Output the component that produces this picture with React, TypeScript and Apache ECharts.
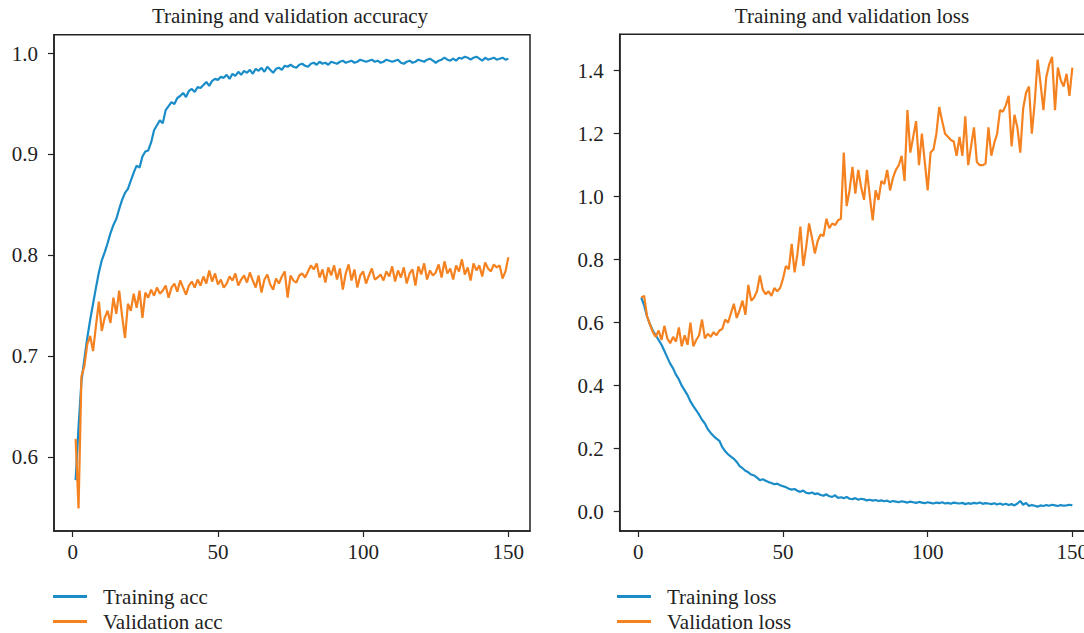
import React, { useEffect, useRef } from "react";
import * as echarts from "echarts";

const epochs: number[] = Array.from({ length: 150 }, (_, i) => i + 1);

const trainAcc: number[] = [
  0.577, 0.63, 0.675, 0.697, 0.718, 0.736, 0.752, 0.768, 0.783, 0.795,
  0.803, 0.812, 0.822, 0.83, 0.836, 0.846, 0.855, 0.862, 0.866, 0.874,
  0.882, 0.889, 0.887, 0.898, 0.903, 0.904, 0.912, 0.924, 0.929, 0.934,
  0.931, 0.944, 0.948, 0.952, 0.95, 0.956, 0.958, 0.961, 0.957, 0.963,
  0.965, 0.962, 0.967, 0.966, 0.969, 0.972, 0.968, 0.973, 0.975, 0.974,
  0.977, 0.976, 0.979, 0.975, 0.98, 0.978, 0.982, 0.979, 0.983, 0.981,
  0.984, 0.98, 0.985, 0.983, 0.986, 0.982, 0.987, 0.984, 0.981, 0.985,
  0.986, 0.984, 0.988, 0.987, 0.989, 0.987, 0.986, 0.989, 0.99, 0.988,
  0.987, 0.99, 0.991, 0.989, 0.992, 0.99, 0.991, 0.989, 0.992, 0.991,
  0.99, 0.992, 0.993, 0.991, 0.992, 0.993, 0.991, 0.992, 0.994, 0.993,
  0.992, 0.993, 0.994, 0.992, 0.993, 0.991, 0.992, 0.994, 0.993, 0.992,
  0.993, 0.994, 0.991, 0.99, 0.992, 0.993, 0.991, 0.992, 0.994, 0.993,
  0.992, 0.994, 0.995, 0.993, 0.991, 0.993, 0.994, 0.996, 0.994, 0.993,
  0.995, 0.993, 0.996, 0.995, 0.997, 0.996, 0.994, 0.996, 0.997, 0.995,
  0.993, 0.996, 0.994, 0.995, 0.996, 0.994, 0.995, 0.996, 0.994, 0.995,
];

const valAcc: number[] = [
  0.618, 0.549, 0.68, 0.69, 0.712, 0.72, 0.705, 0.73, 0.754, 0.725,
  0.738, 0.745, 0.733, 0.758, 0.742, 0.765, 0.74, 0.718, 0.752, 0.745,
  0.762, 0.748, 0.765, 0.738, 0.763, 0.758, 0.766, 0.76, 0.768, 0.762,
  0.765, 0.77, 0.758, 0.768, 0.772, 0.764, 0.775, 0.768, 0.761, 0.77,
  0.774, 0.768, 0.776, 0.77, 0.779, 0.772, 0.785, 0.774, 0.782, 0.771,
  0.776, 0.768, 0.772, 0.779, 0.775, 0.782, 0.77, 0.776, 0.78, 0.773,
  0.783, 0.775, 0.768, 0.78, 0.763, 0.776, 0.781, 0.771, 0.766, 0.777,
  0.772, 0.779, 0.784, 0.758, 0.78, 0.775, 0.773, 0.78, 0.782, 0.778,
  0.784, 0.79, 0.786, 0.792, 0.778, 0.786, 0.773, 0.788, 0.78, 0.79,
  0.776, 0.787, 0.766, 0.782, 0.791, 0.775, 0.786, 0.768, 0.78, 0.784,
  0.772, 0.78, 0.787, 0.776, 0.778, 0.781, 0.775, 0.784, 0.779, 0.789,
  0.774, 0.785, 0.778, 0.788, 0.772, 0.782, 0.786, 0.77, 0.789, 0.781,
  0.792, 0.776, 0.785, 0.78, 0.783, 0.791, 0.778, 0.794, 0.782, 0.787,
  0.776, 0.79, 0.784, 0.796, 0.781, 0.788, 0.775, 0.792, 0.785, 0.79,
  0.779, 0.793, 0.787, 0.784, 0.791, 0.788, 0.79, 0.777, 0.784, 0.798,
];

const trainLoss: number[] = [
  0.68, 0.655, 0.62, 0.595, 0.575, 0.56, 0.545, 0.53, 0.51, 0.49,
  0.47, 0.455, 0.435, 0.42, 0.4, 0.385, 0.37, 0.35, 0.335, 0.322,
  0.308, 0.292, 0.28, 0.262, 0.25, 0.24, 0.232, 0.225, 0.205, 0.192,
  0.182, 0.175, 0.168, 0.158, 0.145, 0.138, 0.13, 0.125, 0.118, 0.115,
  0.108, 0.1, 0.103, 0.098, 0.094, 0.091, 0.087, 0.089, 0.084, 0.081,
  0.078, 0.073, 0.07, 0.072, 0.066, 0.063, 0.067, 0.06, 0.058, 0.061,
  0.056, 0.058, 0.053, 0.051, 0.055, 0.049, 0.047, 0.052, 0.044, 0.046,
  0.043, 0.047, 0.041, 0.04, 0.043, 0.038, 0.041, 0.039, 0.036, 0.038,
  0.035, 0.037, 0.034, 0.036, 0.033, 0.035, 0.031, 0.034, 0.032, 0.03,
  0.033, 0.031, 0.029, 0.032, 0.03, 0.028, 0.031, 0.029, 0.027, 0.03,
  0.028, 0.026, 0.029, 0.027, 0.03, 0.026, 0.028, 0.025, 0.029, 0.027,
  0.026, 0.028, 0.024, 0.027, 0.025, 0.028, 0.026, 0.029, 0.025, 0.027,
  0.026, 0.024, 0.027, 0.023, 0.026, 0.022, 0.025, 0.021, 0.024, 0.02,
  0.026, 0.034, 0.022, 0.028, 0.018, 0.021, 0.019, 0.016, 0.02, 0.018,
  0.021, 0.019, 0.022, 0.02, 0.018, 0.021, 0.019, 0.02, 0.022, 0.02,
];

const valLoss: number[] = [
  0.68, 0.685, 0.62, 0.595, 0.57, 0.555, 0.575, 0.545, 0.59, 0.55,
  0.535, 0.555, 0.54, 0.585, 0.525, 0.56, 0.53, 0.6, 0.525, 0.545,
  0.56, 0.61, 0.55, 0.565, 0.555, 0.57, 0.56, 0.575, 0.58, 0.61,
  0.6, 0.63, 0.66, 0.615, 0.64, 0.67, 0.625, 0.72, 0.67, 0.68,
  0.7, 0.75, 0.705, 0.69, 0.7, 0.685, 0.71, 0.7, 0.71, 0.74,
  0.78, 0.77, 0.85, 0.76, 0.82, 0.905, 0.78, 0.84, 0.915, 0.87,
  0.82, 0.86, 0.88, 0.875, 0.93, 0.9, 0.915, 0.91, 0.925, 0.93,
  1.14, 0.97, 1.02, 1.095, 1.01, 1.085, 1.03, 0.99, 1.085, 1.0,
  0.925, 1.02, 0.99, 1.05, 1.04, 1.085, 1.02, 1.06, 1.085, 1.1,
  1.13, 1.05, 1.275, 1.14, 1.19, 1.24, 1.1, 1.2, 1.11, 1.02,
  1.14, 1.15, 1.2, 1.285, 1.24, 1.2, 1.19, 1.18, 1.175, 1.13,
  1.19, 1.13, 1.255, 1.1, 1.16, 1.22, 1.11, 1.1, 1.1, 1.105,
  1.22, 1.13, 1.17, 1.2, 1.275, 1.27, 1.29, 1.32, 1.16, 1.26,
  1.22, 1.14, 1.28, 1.33, 1.35, 1.2, 1.3, 1.435, 1.36, 1.275,
  1.38, 1.42, 1.444, 1.275, 1.41, 1.37, 1.35, 1.39, 1.32, 1.41,
];

const xTicks: number[] = [0, 50, 100, 150];
const accTicks: number[] = [0.6, 0.7, 0.8, 0.9, 1.0];
const lossTicks: number[] = [0.0, 0.2, 0.4, 0.6, 0.8, 1.0, 1.2, 1.4];

const BLUE = "#1a8dc8";
const ORANGE = "#f58220";
const INK = "#222222";
const FONT = "Liberation Serif";
const FS = 21;

function pairs(ys: number[]): number[][] {
  return ys.map((v, i) => [epochs[i], v]);
}

function xAxisCfg(gridIndex: number) {
  return {
    type: "value",
    gridIndex,
    min: -6.45,
    max: 157.45,
    splitLine: { show: false },
    axisLine: { show: true, onZero: false, lineStyle: { color: INK, width: 1.5 } },
    axisTick: { show: true, customValues: xTicks, length: 6, lineStyle: { color: INK, width: 1.2 } },
    axisLabel: {
      customValues: xTicks,
      margin: 10,
      color: INK,
      fontFamily: FONT,
      fontSize: FS,
      formatter: (v: number) => String(Math.round(v)),
    },
  };
}

function yAxisCfg(gridIndex: number, min: number, max: number, ticks: number[]) {
  return {
    type: "value",
    gridIndex,
    min,
    max,
    splitLine: { show: false },
    axisLine: { show: true, onZero: false, lineStyle: { color: INK, width: 1.5 } },
    axisTick: { show: true, customValues: ticks, length: 6, lineStyle: { color: INK, width: 1.2 } },
    axisLabel: {
      customValues: ticks,
      margin: 16,
      color: INK,
      fontFamily: FONT,
      fontSize: FS,
      formatter: (v: number) => v.toFixed(1),
    },
  };
}

function lineSeries(name: string, ys: number[], color: string, idx: number) {
  return {
    name,
    type: "line",
    xAxisIndex: idx,
    yAxisIndex: idx,
    data: pairs(ys),
    showSymbol: false,
    symbol: "none",
    lineStyle: { color, width: 2.2 },
    itemStyle: { color },
    z: color === ORANGE ? 3 : 2,
  };
}

function legendCfg(left: number, names: string[]) {
  return {
    left,
    top: 586,
    height: 50,
    padding: 0,
    orient: "vertical",
    icon: "rect",
    itemWidth: 34,
    itemHeight: 3,
    itemGap: 4,
    data: names,
    textStyle: {
      color: INK,
      fontFamily: FONT,
      fontSize: FS,
      lineHeight: 20,
      padding: [0, 0, 0, 11],
    },
  };
}

export default function App() {
  const ref = useRef<HTMLDivElement>(null);
  useEffect(() => {
    if (!ref.current) return;
    const chart = echarts.init(ref.current, undefined, { renderer: "svg" });
    chart.setOption({
      animation: false,
      backgroundColor: "#ffffff",
      title: [
        {
          text: "Training and validation accuracy",
          left: 285,
          top: 0,
          textAlign: "center",
          textStyle: { color: INK, fontFamily: FONT, fontSize: FS, fontWeight: "normal" },
        },
        {
          text: "Training and validation loss",
          left: 847,
          top: 0,
          textAlign: "center",
          textStyle: { color: INK, fontFamily: FONT, fontSize: FS, fontWeight: "normal" },
        },
      ],
      legend: [
        legendCfg(53, ["Training acc", "Validation acc"]),
        legendCfg(617, ["Training loss", "Validation loss"]),
      ],
      grid: [
        { left: 54, top: 34.7, width: 476, height: 496.3, show: true, borderColor: INK, borderWidth: 1.5, backgroundColor: "transparent" },
        { left: 619.7, top: 34.3, width: 474.2, height: 496.7, show: true, borderColor: INK, borderWidth: 1.5, backgroundColor: "transparent" },
      ],
      xAxis: [xAxisCfg(0), xAxisCfg(1)],
      yAxis: [
        yAxisCfg(0, 0.5266, 1.0188, accTicks),
        yAxisCfg(1, -0.0613, 1.5156, lossTicks),
      ],
      series: [
        lineSeries("Training acc", trainAcc, BLUE, 0),
        lineSeries("Validation acc", valAcc, ORANGE, 0),
        lineSeries("Training loss", trainLoss, BLUE, 1),
        lineSeries("Validation loss", valLoss, ORANGE, 1),
      ],
    });
    return () => chart.dispose();
  }, []);
  return (
    <div
      style={{ position: "fixed", left: 0, top: 0, width: 1084, height: 633, overflow: "hidden", background: "#fff" }}
    >
      <div ref={ref} style={{ width: 1110, height: 633 }} />
    </div>
  );
}
